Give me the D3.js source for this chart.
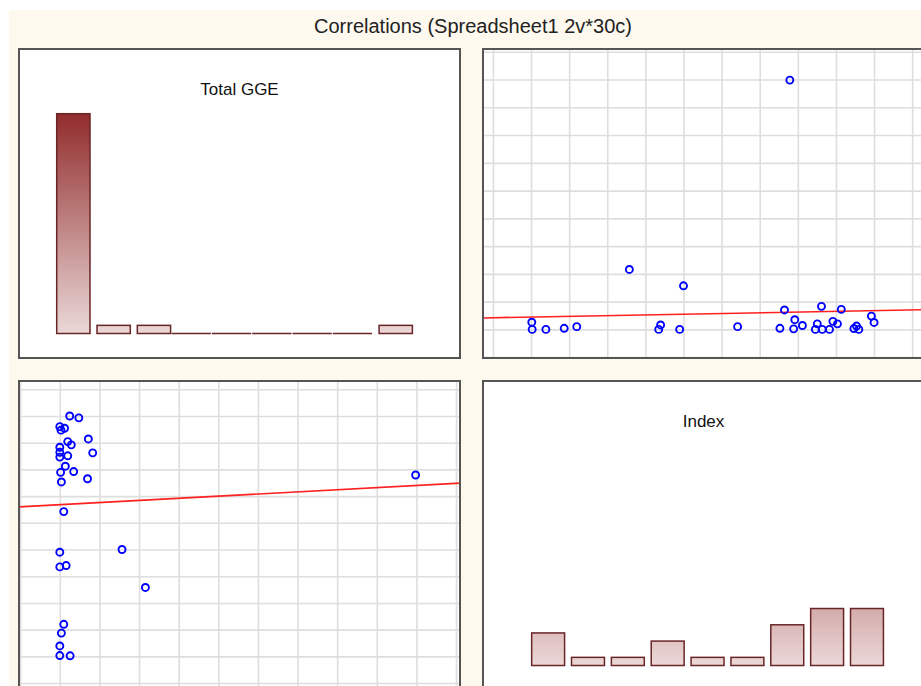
<!DOCTYPE html>
<html>
<head>
<meta charset="utf-8">
<script src="https://cdn.jsdelivr.net/npm/d3@7"></script>
<style>
  body { margin: 0; background: #fff; }
  svg { display: block; font-family: "Liberation Sans", Arial, sans-serif; }
</style>
</head>
<body>
<svg id="chart" width="921" height="686"></svg>
<script>
// two variables, 30 cases
var varNames = ["Total GGE", "Index"];
var gge = [0.26, 0, 0, 0.04, 0.1, 2.16, 0, 0.16, 0, 1.57, 0.1, 0.04, 0.7, 8.98, 0.02,
           0.35, 0.14, 0, 0.2, 0.83, 0, 0, 0.29, 0.2, 0.72, 0.03, 0.12, 0, 0.48, 0.25];
var index = [0.02, 0.03, 0.39, 0.87, 1.2, 2.58, 3.35, 3.4, 3.9, 4.0, 5.42, 6.53, 6.65, 6.79, 6.89,
             6.92, 7.12, 7.46, 7.51, 7.62, 7.64, 7.83, 7.92, 8.04, 8.14, 8.47, 8.54, 8.6, 8.93, 9.0];
var gridTicks = [-1, 0, 1, 2, 3, 4, 5, 6, 7, 8, 9, 10];
var binEdges = [0, 1, 2, 3, 4, 5, 6, 7, 8, 9];
var ggeDomain = [-1.03, 10.1];
var indexDomain = [-1.26, 10.31];

var svg = d3.select("#chart");
var defs = svg.append("defs");
var pw = 441, ph = 309;
var panels = {
  tl: {x: 19, y: 49}, tr: {x: 483, y: 49},
  bl: {x: 19, y: 381}, br: {x: 483, y: 381}
};

// cream frame
svg.append("rect")
  .attr("x", 9).attr("y", 10)
  .attr("width", 930).attr("height", 700)
  .attr("fill", "#fef9ee");

svg.append("text")
  .attr("x", 473).attr("y", 27.5)
  .attr("text-anchor", "middle")
  .attr("dominant-baseline", "middle")
  .attr("font-size", 20)
  .attr("fill", "#222")
  .text("Correlations (Spreadsheet1 2v*30c)");

function panelBox(p){
  var g = svg.append("g").attr("transform", "translate(" + p.x + "," + p.y + ")");
  g.append("rect").attr("width", pw).attr("height", ph).attr("fill", "#fff");
  return g;
}

function frame(g){
  g.append("rect").attr("width", pw).attr("height", ph)
    .attr("fill", "none").attr("stroke", "#555").attr("stroke-width", 2);
}

// histograms share one count scale
var histCounts = [gge, index].map(function(vals){
  return d3.bin().domain([0, 9]).thresholds(binEdges.slice(1, -1))(vals).map(function(b){ return b.length; });
});
var maxCount = d3.max(histCounts, function(c){ return d3.max(c); });

function histogram(p, counts, title, bandRange, id){
  var g = panelBox(p);
  var baseline = 284.5;
  var y = d3.scaleLinear().domain([0, maxCount]).range([baseline, 64.7]);
  var x = d3.scaleBand().domain(d3.range(counts.length)).range(bandRange)
    .paddingInner(0.174).paddingOuter(0.087);
  var gap = x.step() - x.bandwidth();

  // gradient runs over the full count range, in the panel's own coordinates
  var grad = defs.append("linearGradient")
    .attr("id", id).attr("gradientUnits", "userSpaceOnUse")
    .attr("x1", 0).attr("x2", 0)
    .attr("y1", y(0)).attr("y2", y(maxCount));
  grad.append("stop").attr("offset", 0).attr("stop-color", "#ebd8d8");
  grad.append("stop").attr("offset", 1).attr("stop-color", "#922c2c");

  g.append("text")
    .attr("x", pw / 2).attr("y", 41.5)
    .attr("text-anchor", "middle")
    .attr("dominant-baseline", "middle")
    .attr("font-size", 17)
    .attr("fill", "#111")
    .text(title);

  g.selectAll(".bar")
    .data(counts.map(function(c, i){ return {i: i, c: c}; }).filter(function(d){ return d.c > 0; }))
    .enter().append("rect")
    .attr("class", "bar")
    .attr("x", function(d){ return x(d.i); })
    .attr("width", x.bandwidth())
    .attr("y", function(d){ return y(d.c); })
    .attr("height", function(d){ return y(0) - y(d.c); })
    .attr("fill", "url(#" + id + ")")
    .attr("stroke", "#6a2626")
    .attr("stroke-width", 1.5);

  // empty bins drawn as a flat line
  g.selectAll(".empty")
    .data(counts.map(function(c, i){ return {i: i, c: c}; }).filter(function(d){ return d.c === 0; }))
    .enter().append("line")
    .attr("class", "empty")
    .attr("x1", function(d){ return x(d.i) - gap + 1; })
    .attr("x2", function(d){ return x(d.i) + x.bandwidth(); })
    .attr("y1", y(0)).attr("y2", y(0))
    .attr("stroke", "#6a2626")
    .attr("stroke-width", 1.5);

  frame(g);
}

function regression(xs, ys){
  var mx = d3.mean(xs), my = d3.mean(ys);
  var sxy = d3.sum(xs, function(v, i){ return (v - mx) * (ys[i] - my); });
  var sxx = d3.sum(xs, function(v){ return (v - mx) * (v - mx); });
  var b = sxy / sxx;
  return {a: my - b * mx, b: b};
}

function scatter(p, xs, ys, xDom, yDom){
  var g = panelBox(p);
  var x = d3.scaleLinear().domain(xDom).range([0, pw]);
  var y = d3.scaleLinear().domain(yDom).range([ph, 0]);

  var grid = g.append("g").attr("class", "grid");
  grid.append("g")
    .attr("transform", "translate(0," + ph + ")")
    .call(d3.axisBottom(x).tickValues(gridTicks).tickSize(-ph).tickFormat(""));
  grid.append("g")
    .call(d3.axisLeft(y).tickValues(gridTicks).tickSize(-pw).tickFormat(""));
  grid.selectAll(".domain").remove();
  grid.selectAll(".tick line").attr("stroke", "#dedede").attr("stroke-width", 1.6);

  var fit = regression(xs, ys);
  g.append("line")
    .attr("x1", x(xDom[0])).attr("x2", x(xDom[1]))
    .attr("y1", y(fit.a + fit.b * xDom[0]))
    .attr("y2", y(fit.a + fit.b * xDom[1]))
    .attr("stroke", "#ff2020")
    .attr("stroke-width", 1.6);

  g.selectAll("circle")
    .data(xs.map(function(v, i){ return [v, ys[i]]; }))
    .enter().append("circle")
    .attr("cx", function(d){ return x(d[0]); })
    .attr("cy", function(d){ return y(d[1]); })
    .attr("r", 3.5)
    .attr("fill", "none")
    .attr("stroke", "#0000ff")
    .attr("stroke-width", 1.9);

  frame(g);
}

histogram(panels.tl, histCounts[0], varNames[0], [34.2, 396.9], "gradGGE");
scatter(panels.tr, index, gge, indexDomain, ggeDomain);
scatter(panels.bl, gge, index, ggeDomain, indexDomain);
histogram(panels.br, histCounts[1], varNames[1], [45.2, 403.9], "gradIndex");
</script>
</body>
</html>
